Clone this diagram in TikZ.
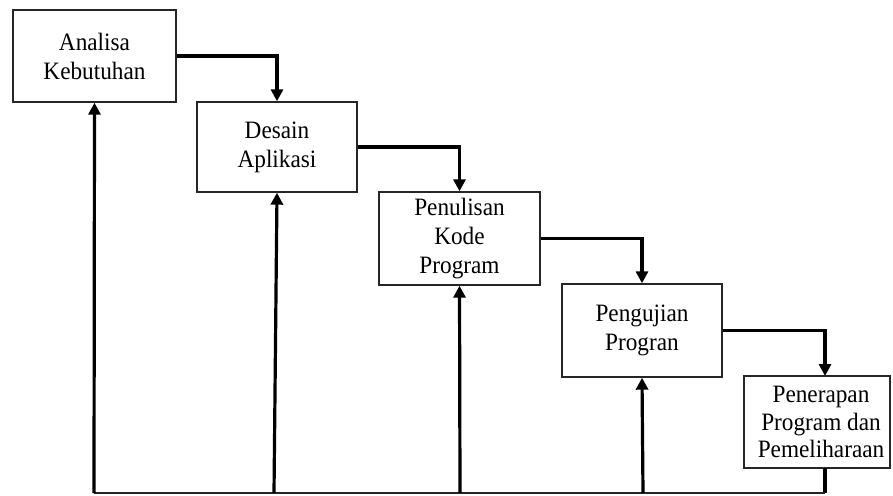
\documentclass[tikz,border=0pt]{standalone}
\usepackage{fontspec}
\setmainfont{Liberation Serif}[FakeStretch=0.93]
\usetikzlibrary{arrows.meta}

\begin{document}
\begin{tikzpicture}[x=1pt,y=1pt,
  stagebox/.style={draw=black!85, line width=1.4pt, fill=white, inner sep=0pt,
    align=center, font=\fontsize{25}{29}\selectfont},
  flow/.style={line width=3.2pt, -{Triangle[width=12pt,length=12pt]}},
  backline/.style={line width=1.8pt, draw=black!85}]

  \useasboundingbox (0,0) rectangle (893,-495);

  % waterfall stages
  \node[stagebox, minimum width=163pt, minimum height=92pt] (b1) at (94.5,-56)
    {Analisa\\Kebutuhan};
  \node[stagebox, minimum width=160pt, minimum height=90pt] (b2) at (277,-147)
    {Desain\\Aplikasi};
  \node[stagebox, minimum width=161pt, minimum height=93pt] (b3) at (459.5,-238.5)
    {Penulisan\\Kode\\Program};
  \node[stagebox, minimum width=160pt, minimum height=93pt] (b4) at (642,-330.5)
    {Pengujian\\Progran};
  \node[stagebox, minimum width=146pt, minimum height=92pt,
        font=\fontsize{25}{27.5}\selectfont] (b5) at (817,-422)
    {\hspace*{8pt}Penerapan\\\hspace*{8pt}Program dan\\\hspace*{8pt}Pemeliharaan};

  % forward flow between stages
  \draw[flow] (b1.east) -| (b2.north);
  \draw[flow] (b2.east) -| (b3.north);
  \draw[flow] (b3.east) -| (b4.north);
  \coordinate (t5) at (825,-376);
  \draw[flow] (b4.east) -| (t5);

  % feedback line along the bottom
  \coordinate (f5top) at (825,-468);
  \coordinate (f5) at (825,-493);
  \coordinate (f1) at (94,-493);
  \coordinate (f2) at (274,-493);
  \coordinate (f3) at (460,-493);
  \coordinate (f4) at (643,-493);
  \draw[line width=3.2pt] (f5top) -- (f5);
  \draw[backline] (f1) -- (f5);

  \draw[flow] (f1) -- (b1.south);
  \draw[flow] (f2) -- (b2.south);
  \draw[flow] (f3) -- (b3.south);
  \draw[flow] (f4) -- (b4.south);
\end{tikzpicture}
\end{document}
